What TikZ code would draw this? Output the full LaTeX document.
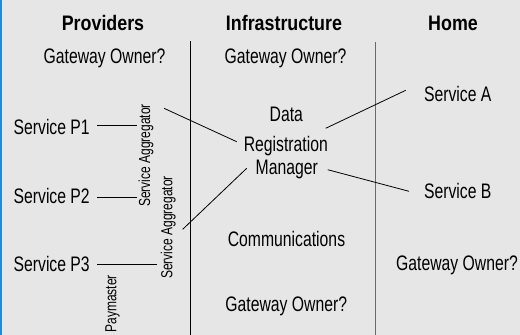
\documentclass[tikz,border=0pt]{standalone}
\usepackage{fontspec}
\setmainfont{Liberation Sans}[FakeStretch=0.75]
\newfontfamily\hdrfont{Liberation Sans}[FakeStretch=0.85]
\usetikzlibrary{calc}
\definecolor{bgc}{RGB}{230,230,230}
\definecolor{edgeblue}{RGB}{32,140,216}
\definecolor{divgray}{RGB}{105,105,105}
\begin{document}
\begin{tikzpicture}[x=1pt,y=-1pt,
  txt/.style={inner sep=0pt,anchor=base,font=\fontsize{21}{25}\selectfont},
  hdr/.style={inner sep=0pt,anchor=base,font=\hdrfont\bfseries\fontsize{21}{25}\selectfont},
  vlabel/.style={inner sep=0pt,rotate=90,font=\fontsize{16}{19}\selectfont},
  conn/.style={draw=black,line width=0.8pt},
  divider/.style={line width=1pt}]
\useasboundingbox (0,0) rectangle (520,335);
\fill[bgc] (0,0) rectangle (520,335);
\fill[edgeblue] (0,0) rectangle (1.6,335);
% dividers
\draw[divider,black] (190.3,41) -- (190.3,335);
\draw[divider,divgray] (375,42) -- (375,335);
% headers
\node[hdr] (hprov) at (103,30) {Providers};
\node[hdr] (hinfra) at (284,30) {Infrastructure};
\node[hdr] (hhome) at (453,30) {Home};
% texts
\node[txt] (gw1) at (104.5,63.5) {Gateway Owner?};
\node[txt] (gw2) at (285.5,63.5) {Gateway Owner?};
\node[txt] (data) at (286.3,121.7) {Data};
\node[txt] (reg) at (285.8,151.7) {Registration};
\node[txt] (mgr) at (286.8,174) {Manager};
\node[txt] (svcA) at (457.8,101.7) {Service A};
\node[txt] (svcB) at (457.8,198.3) {Service B};
\node[txt] (comm) at (286.5,246.7) {Communications};
\node[txt] (p1) at (51.7,134) {Service P1};
\node[txt] (p2) at (51.7,203) {Service P2};
\node[txt] (p3) at (51.7,271) {Service P3};
\node[txt] (gw3) at (457,270) {Gateway Owner?};
\node[txt] (gw4) at (286.3,311) {Gateway Owner?};
% rotated labels
\node[vlabel] (agg1) at (146,155.5) {Service Aggregator};
\node[vlabel] (agg2) at (168.3,227.5) {Service Aggregator};
\node[vlabel] (pay) at (112.5,303.8) {Paymaster};
% connectors
\draw[conn] ($(p1.base)+(45.6,-9)$) -- ($(agg1.center)+(-9.3,-30.5)$);
\draw[conn] ($(p2.base)+(45.3,-6)$) -- ($(agg1.center)+(-9,41.5)$);
\draw[conn] ($(p3.base)+(45.3,-7)$) -- ($(agg2.center)+(-11.6,36.5)$);
\draw[conn] ($(agg1.center)+(18,-47.2)$) -- ($(reg.base)+(-49.1,-10)$);
\draw[conn] ($(agg2.center)+(14.4,1.8)$) -- ($(mgr.base)+(-40.1,-5.7)$);
\draw[conn] ($(reg.base)+(39.9,-23.4)$) -- ($(svcA.base)+(-52.1,-11.4)$);
\draw[conn] ($(mgr.base)+(40.9,-4.3)$) -- ($(svcB.base)+(-48.8,-7)$);
\end{tikzpicture}
\end{document}
